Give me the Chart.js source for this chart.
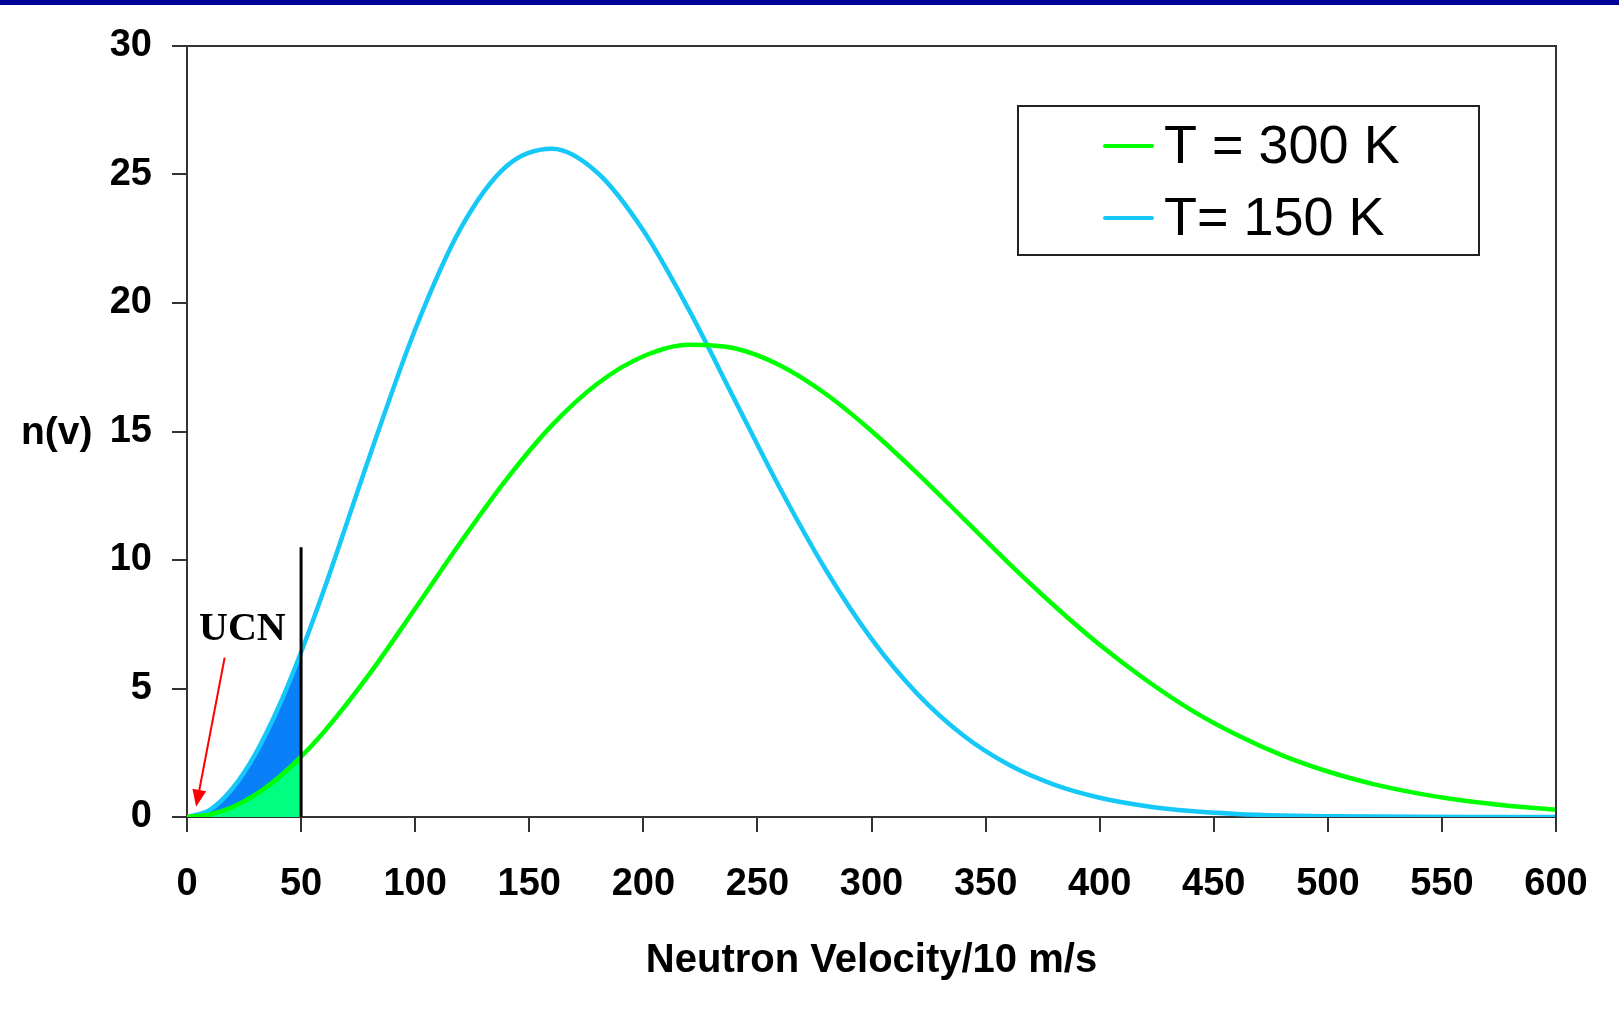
<!DOCTYPE html>
<html>
<head>
<meta charset="utf-8">
<script src="https://cdn.jsdelivr.net/npm/chart.js@4.4.1/dist/chart.umd.min.js"></script>
<style>
  html, body { margin: 0; padding: 0; background: #ffffff; }
  #wrap { width: 1619px; height: 1033px; position: relative; }
</style>
</head>
<body>
<div id="wrap"><canvas id="c" width="1619" height="1033"></canvas></div>
<script>
// ---- data ----
const velocities = [0, 10, 20, 30, 40, 50, 60, 80, 100, 120, 140, 160, 180, 200, 220, 240, 260, 280, 300,
  320, 340, 360, 380, 400, 420, 440, 460, 480, 500, 520, 540, 560, 580, 600];
const n300K = [0, 0.10, 0.39, 0.87, 1.53, 2.35, 3.31, 5.57, 8.11, 10.70, 13.14, 15.25, 16.87, 17.93, 18.38, 18.24,
  17.57, 16.46, 15.02, 13.38, 11.64, 9.89, 8.23, 6.70, 5.35, 4.17, 3.20, 2.40, 1.77, 1.28, 0.91, 0.63, 0.43, 0.29];
const n150K = [0, 0.28, 1.12, 2.46, 4.25, 6.41, 8.83, 14.03, 18.97, 22.91, 25.32, 26.00, 25.06, 22.82, 19.73, 16.24,
  12.77, 9.61, 6.93, 4.80, 3.19, 2.04, 1.26, 0.75, 0.43, 0.23, 0.12, 0.06, 0.03, 0.015, 0.007, 0.003, 0.001, 0.0006];
const seriesLabels = ["T = 300 K", "T= 150 K"];
const ucnLimit = 50;          // UCN cut-off velocity
const ucnMarkerTop = 10.5;    // height of the black marker line
const xTicks = [0, 50, 100, 150, 200, 250, 300, 350, 400, 450, 500, 550, 600];
const yTicks = [0, 5, 10, 15, 20, 25, 30];
const xTitle = "Neutron Velocity/10 m/s";
const yTitle = "n(v)";
const ucnLabel = "UCN";

// ---- build datasets ----
const pts = (ys) => velocities.map((v, i) => ({ x: v, y: ys[i] }));
const ucnPts = (ys) => velocities.map((v, i) => ({ x: v, y: ys[i] })).filter(p => p.x <= ucnLimit);

const GREEN = '#00FF00', BLUE = '#16C8F8';

const extras = {
  id: 'extras',
  beforeDraw(chart) {
    const ctx = chart.ctx;
    ctx.save();
    ctx.fillStyle = '#ffffff';
    ctx.fillRect(0, 0, chart.width, chart.height);
    ctx.fillStyle = '#000099';
    ctx.fillRect(0, 0, chart.width, 5);
    ctx.restore();
  },
  afterDraw(chart) {
    const ctx = chart.ctx;
    const ca = chart.chartArea;
    const xs = chart.scales.x, ys = chart.scales.y;
    ctx.save();
    // top & right frame
    ctx.strokeStyle = '#333333';
    ctx.lineWidth = 2;
    ctx.beginPath();
    ctx.moveTo(ca.left, ca.top);
    ctx.lineTo(ca.right, ca.top);
    ctx.lineTo(ca.right, ca.bottom);
    ctx.stroke();

    // y title
    ctx.fillStyle = '#000';
    ctx.font = 'bold 39px "Liberation Sans", Arial, sans-serif';
    ctx.textAlign = 'left';
    ctx.textBaseline = 'middle';
    ctx.fillText(yTitle, 21, ys.getPixelForValue(15) + 2);

    // x title
    ctx.font = 'bold 40px "Liberation Sans", Arial, sans-serif';
    ctx.textAlign = 'center';
    ctx.fillText(xTitle, (ca.left + ca.right) / 2, 961);

    // UCN label
    ctx.font = 'bold 40px "Liberation Serif", "Times New Roman", serif';
    ctx.textAlign = 'left';
    ctx.textBaseline = 'alphabetic';
    ctx.fillText(ucnLabel, xs.getPixelForValue(5.3), ys.getPixelForValue(6.9));

    // red arrow
    const x1 = xs.getPixelForValue(16.5), y1 = ys.getPixelForValue(6.2);
    const x2 = xs.getPixelForValue(4), y2 = ys.getPixelForValue(0.4);
    const ang = Math.atan2(y2 - y1, x2 - x1);
    const hl = 17, hw = 7;
    ctx.strokeStyle = '#FF0000';
    ctx.fillStyle = '#FF0000';
    ctx.lineWidth = 2;
    ctx.beginPath();
    ctx.moveTo(x1, y1);
    ctx.lineTo(x2 - hl * Math.cos(ang), y2 - hl * Math.sin(ang));
    ctx.stroke();
    ctx.beginPath();
    ctx.moveTo(x2, y2);
    ctx.lineTo(x2 - hl * Math.cos(ang) + hw * Math.sin(ang), y2 - hl * Math.sin(ang) - hw * Math.cos(ang));
    ctx.lineTo(x2 - hl * Math.cos(ang) - hw * Math.sin(ang), y2 - hl * Math.sin(ang) + hw * Math.cos(ang));
    ctx.closePath();
    ctx.fill();

    // legend
    const bx = 1018, by = 106, bw = 461, bh = 149;
    ctx.strokeStyle = '#222';
    ctx.lineWidth = 2;
    ctx.strokeRect(bx, by, bw, bh);
    const legendItems = [
      { label: chart.data.datasets[1].label, color: chart.data.datasets[1].borderColor, y: 146 },
      { label: chart.data.datasets[2].label, color: chart.data.datasets[2].borderColor, y: 218 }
    ];
    ctx.font = '54px "Liberation Sans", Arial, sans-serif';
    ctx.textBaseline = 'middle';
    ctx.textAlign = 'left';
    legendItems.forEach(it => {
      ctx.strokeStyle = it.color;
      ctx.lineWidth = 4;
      ctx.lineCap = 'round';
      ctx.beginPath();
      ctx.moveTo(1105, it.y);
      ctx.lineTo(1152, it.y);
      ctx.stroke();
      ctx.fillStyle = '#000';
      ctx.fillText(it.label, 1164, it.y + 2);
    });
    ctx.restore();
  }
};

new Chart(document.getElementById('c'), {
  type: 'line',
  data: {
    datasets: [
      { label: 'UCN limit', data: [{ x: ucnLimit, y: 0 }, { x: ucnLimit, y: ucnMarkerTop }],
        borderColor: '#000000', borderWidth: 3, pointRadius: 0, fill: false },
      { label: seriesLabels[0], data: pts(n300K), borderColor: GREEN, borderWidth: 4.5,
        pointRadius: 0, cubicInterpolationMode: 'monotone', fill: false },
      { label: seriesLabels[1], data: pts(n150K), borderColor: BLUE, borderWidth: 4.5,
        pointRadius: 0, cubicInterpolationMode: 'monotone', fill: false },
      { label: 'ucn150', data: ucnPts(n150K), borderWidth: 0, borderColor: 'rgba(0,0,0,0)',
        backgroundColor: '#0A80F8', pointRadius: 0, cubicInterpolationMode: 'monotone', fill: 4 },
      { label: 'ucn300', data: ucnPts(n300K), borderWidth: 0, borderColor: 'rgba(0,0,0,0)',
        backgroundColor: '#00FF80', pointRadius: 0, cubicInterpolationMode: 'monotone', fill: 'origin' }
    ]
  },
  options: {
    responsive: false,
    animation: false,
    layout: { padding: { top: 46, right: 63, left: 0, bottom: 0 } },
    plugins: { legend: { display: false }, tooltip: { enabled: false }, filler: { propagate: false } },
    scales: {
      x: {
        type: 'linear', min: 0, max: 600,
        afterFit(s) { s.height = 216; },
        afterBuildTicks(s) { s.ticks = xTicks.map(v => ({ value: v })); },
        grid: { drawOnChartArea: false, tickLength: 15, color: '#333', lineWidth: 2 },
        border: { color: '#333', width: 2 },
        ticks: { color: '#000', padding: 30, maxRotation: 0,
          font: { family: '"Liberation Sans", Arial, sans-serif', size: 38, weight: 'bold' } }
      },
      y: {
        type: 'linear', min: 0, max: 30,
        afterFit(s) { s.width = 187; },
        afterBuildTicks(s) { s.ticks = yTicks.map(v => ({ value: v })); },
        grid: { drawOnChartArea: false, tickLength: 15, color: '#333', lineWidth: 2 },
        border: { color: '#333', width: 2 },
        ticks: { color: '#000', padding: 20,
          font: { family: '"Liberation Sans", Arial, sans-serif', size: 38, weight: 'bold' } }
      }
    }
  },
  plugins: [extras]
});
</script>
</body>
</html>
